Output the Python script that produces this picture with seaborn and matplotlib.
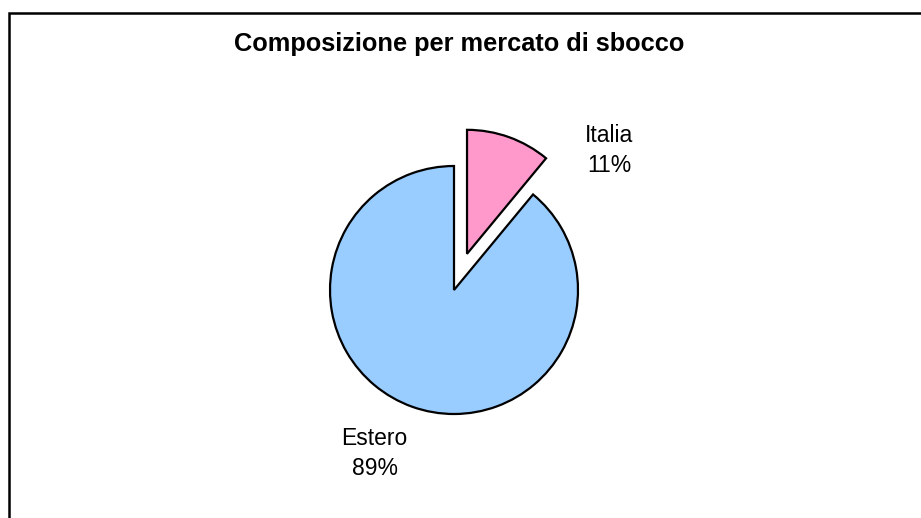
import matplotlib
matplotlib.use("Agg")
import matplotlib.pyplot as plt
import seaborn as sns
from matplotlib.patches import Rectangle

sns.set_theme(style="white")
plt.rcParams['font.family'] = ['Liberation Sans', 'DejaVu Sans']

categories = ["Italia", "Estero"]
values = [11, 89]
colors = ["#FF99CC", "#99CCFF"]
title = "Composizione per mercato di sbocco"

W, H = 921, 518
fig = plt.figure(figsize=(W / 100, H / 100), dpi=100)
fig.patch.set_facecolor("white")

ax = fig.add_axes([0, 0, 1, 1])

cx, cy, r = 454, H - 290, 124
wedges, texts = ax.pie(
    values,
    colors=colors,
    startangle=90,
    counterclock=False,
    explode=[0.31 * r, 0],
    center=(cx, cy),
    radius=r,
    wedgeprops=dict(edgecolor="black", linewidth=1.6),
    frame=True,
)
ax.set_xlim(0, W)
ax.set_ylim(0, H)
ax.set_aspect("equal")
ax.axis("off")

total = sum(values)
label_pos = [(609, H - 172), (374.5, H - 475)]
for cat, v, (x, y) in zip(categories, values, label_pos):
    ax.text(x, y, f"{cat}\n{round(100 * v / total)}%", ha="center", va="baseline",
            fontsize=16.5, linespacing=1.4, color="black", multialignment="center")

fig.text(459 / W, 1 - 51.5 / H, title, ha="center", va="baseline",
         fontsize=18.3, fontweight="bold", color="black")

fig.patches.append(Rectangle((9 / W, -0.1), 1.2, (H - 13.3) / H + 0.1,
                             transform=fig.transFigure, fill=False,
                             edgecolor="black", linewidth=1.8))

fig.savefig("out.png", dpi=100, facecolor="white")
